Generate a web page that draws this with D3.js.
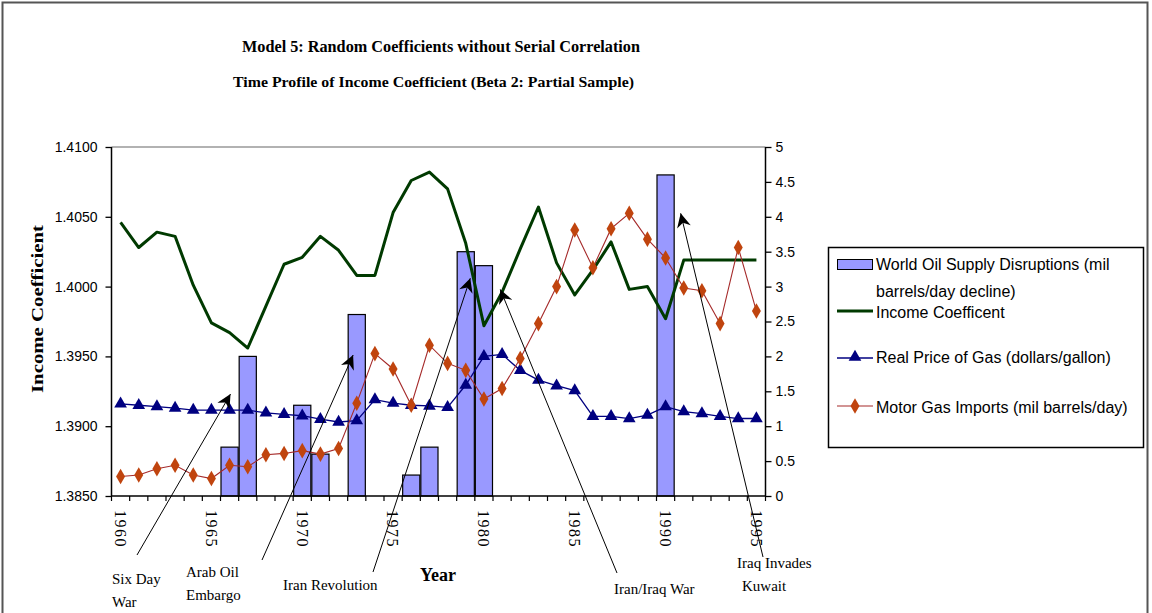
<!DOCTYPE html>
<html>
<head>
<meta charset="utf-8">
<script src="https://cdn.jsdelivr.net/npm/d3@7"></script>
<style>
  body { margin: 0; background: #fff; }
  svg { display: block; }
  .serif { font-family: "Liberation Serif", "Times New Roman", serif; }
  .sans { font-family: "Liberation Sans", Arial, sans-serif; }
</style>
</head>
<body>
<svg id="chart" width="1152" height="613"></svg>
<script>
'use strict';

// ---- data ----
var years = d3.range(1960, 1996);

var incomeCoef = [1.4046, 1.4028, 1.4039, 1.4036, 1.4001, 1.3974, 1.3967, 1.3956,
    1.3986, 1.4016, 1.4021, 1.4036, 1.4026, 1.4008, 1.4008, 1.4053, 1.4076, 1.4082,
    1.4070, 1.4031, 1.3972, 1.3996, 1.4027, 1.4057, 1.4017, 1.3994, 1.4012, 1.4032,
    1.3998, 1.4000, 1.3977, 1.4019, 1.4019, 1.4019, 1.4019, 1.4019];

var gasPrice = [1.32, 1.30, 1.28, 1.26, 1.23, 1.23, 1.23, 1.23, 1.19, 1.17, 1.15, 1.10,
    1.06, 1.08, 1.38, 1.33, 1.30, 1.29, 1.27, 1.59, 2.00, 2.03, 1.80, 1.66, 1.58, 1.51,
    1.14, 1.14, 1.11, 1.16, 1.28, 1.21, 1.18, 1.14, 1.11, 1.11];

var gasImports = [0.28, 0.30, 0.39, 0.44, 0.30, 0.25, 0.44, 0.42, 0.59, 0.61, 0.65, 0.60,
    0.68, 1.33, 2.04, 1.82, 1.30, 2.16, 1.90, 1.80, 1.39, 1.54, 1.97, 2.47, 3.00, 3.81,
    3.27, 3.83, 4.05, 3.68, 3.41, 2.98, 2.94, 2.47, 3.56, 2.65];

var disruptionYears = [1966, 1967, 1970, 1971, 1973, 1976, 1977, 1979, 1980, 1990];
var disruptionValues = [0.7, 2.0, 1.3, 0.6, 2.6, 0.3, 0.7, 3.5, 3.3, 4.6];

var leftTicks = [1.385, 1.39, 1.395, 1.40, 1.405, 1.41];
var rightTicks = [0, 0.5, 1, 1.5, 2, 2.5, 3, 3.5, 4, 4.5, 5];
var yearLabels = [1960, 1965, 1970, 1975, 1980, 1985, 1990, 1995];

// events: arrow tip in (year, right-axis value)
var eventNames = [["Six Day", "War"], ["Arab Oil", "Embargo"], ["Iran Revolution"],
    ["Iran/Iraq War"], ["Iraq Invades", "Kuwait"]];
var eventTipYear = [1966.05, 1972.8, 1979.25, 1980.9, 1990.83];
var eventTipValue = [1.46, 2.02, 3.12, 2.96, 4.05];

// ---- layout ----
var svg = d3.select("#chart"),
    plotLeft = 111.5, plotRight = 765.5, plotTop = 147, plotBottom = 496;

var x = d3.scaleBand().domain(years).range([plotLeft, plotRight]).padding(0),
    xYear = d3.scaleLinear().domain([1960, 1961])
        .range([plotLeft + x.bandwidth() / 2, plotLeft + 1.5 * x.bandwidth()]),
    yL = d3.scaleLinear().domain([1.385, 1.41]).range([plotBottom, plotTop]),
    yR = d3.scaleLinear().domain([0, 5]).range([plotBottom, plotTop]);

function xc(yr) { return x(yr) + x.bandwidth() / 2; }

// outer frame
svg.append("rect")
    .attr("x", 2.5).attr("y", 2.5).attr("width", 1145).attr("height", 700)
    .style("fill", "none").style("stroke", "#555").style("stroke-width", 2);

// titles
svg.append("text").attr("class", "serif")
    .attr("x", 242).attr("y", 52)
    .attr("textLength", 398).attr("lengthAdjust", "spacingAndGlyphs")
    .style("font-weight", "bold").style("font-size", "17px")
    .text("Model 5: Random Coefficients without Serial Correlation");
svg.append("text").attr("class", "serif")
    .attr("x", 233).attr("y", 87)
    .attr("textLength", 401).attr("lengthAdjust", "spacingAndGlyphs")
    .style("font-weight", "bold").style("font-size", "15px")
    .text("Time Profile of Income Coefficient (Beta 2: Partial Sample)");

// top gridline
svg.append("line")
    .attr("x1", plotLeft).attr("x2", plotRight).attr("y1", yL(1.41)).attr("y2", yL(1.41))
    .style("stroke", "#999").style("stroke-width", 1.5);

// bars
svg.append("g").selectAll("rect")
    .data(disruptionYears)
    .enter().append("rect")
    .attr("x", function(d) { return x(d) + 0.5; })
    .attr("width", x.bandwidth() - 1)
    .attr("y", function(d, i) { return yR(disruptionValues[i]); })
    .attr("height", function(d, i) { return yR(0) - yR(disruptionValues[i]); })
    .style("fill", "#9999ff")
    .style("stroke", "#000")
    .style("stroke-width", 1.2);

// income coefficient
var lineL = d3.line().x(function(d, i) { return xc(years[i]); }).y(function(d) { return yL(d); });
var lineR = d3.line().x(function(d, i) { return xc(years[i]); }).y(function(d) { return yR(d); });

svg.append("path").datum(incomeCoef)
    .attr("d", lineL)
    .style("fill", "none").style("stroke", "#003a00").style("stroke-width", 3)
    .style("stroke-linejoin", "round");

// gas price
svg.append("path").datum(gasPrice)
    .attr("d", lineR)
    .style("fill", "none").style("stroke", "#000080").style("stroke-width", 1.3);
var tri = d3.symbol().type(d3.symbolTriangle).size(70);
svg.append("g").selectAll("path")
    .data(gasPrice)
    .enter().append("path")
    .attr("d", tri)
    .attr("transform", function(d, i) { return "translate(" + xc(years[i]) + "," + yR(d) + ")"; })
    .style("fill", "#000080");

// gas imports
svg.append("path").datum(gasImports)
    .attr("d", lineR)
    .style("fill", "none").style("stroke", "#a52a2a").style("stroke-width", 1.1);
var dia = d3.symbol().type(d3.symbolDiamond).size(70);
svg.append("g").selectAll("path")
    .data(gasImports)
    .enter().append("path")
    .attr("d", dia)
    .attr("transform", function(d, i) { return "translate(" + xc(years[i]) + "," + yR(d) + ")"; })
    .style("fill", "#c0440e");

// axes
var gL = svg.append("g").attr("transform", "translate(" + plotLeft + ",0)")
    .call(d3.axisLeft(yL).tickValues(leftTicks).tickFormat(d3.format(".4f")).tickSize(6).tickPadding(8));
var gR = svg.append("g").attr("transform", "translate(" + plotRight + ",0)")
    .call(d3.axisRight(yR).tickValues(rightTicks).tickFormat(d3.format("~g")).tickSize(6).tickPadding(4));
[gL, gR].forEach(function(g) {
    g.select(".domain").attr("d", "M0," + plotTop + "V" + plotBottom)
        .style("stroke", "#000").style("stroke-width", 1.5);
    g.selectAll(".tick line").style("stroke", "#000").style("stroke-width", 1.3);
    g.selectAll(".tick text").attr("class", "sans")
        .style("font-size", "14px").style("fill", "#000");
});

var gB = svg.append("g").attr("transform", "translate(0," + plotBottom + ")")
    .call(d3.axisBottom(x).tickValues(yearLabels).tickSize(0).tickPadding(0));
gB.select(".domain").attr("d", "M" + plotLeft + ",0H" + plotRight)
    .style("stroke", "#000").style("stroke-width", 1.5);
gB.selectAll(".tick text")
    .attr("class", "serif")
    .attr("x", 0).attr("y", 0)
    .attr("transform", "translate(0,14) rotate(90)")
    .attr("dy", "0.35em")
    .style("text-anchor", "start")
    .style("font-size", "16px")
    .style("letter-spacing", "1.5px")
    .style("fill", "#000");
gB.append("g").selectAll("line")
    .data(d3.range(years.length + 1))
    .enter().append("line")
    .attr("x1", function(i) { return plotLeft + i * x.bandwidth(); })
    .attr("x2", function(i) { return plotLeft + i * x.bandwidth(); })
    .attr("y1", 0).attr("y2", 5)
    .style("stroke", "#000").style("stroke-width", 1.2);

// axis titles
svg.append("text").attr("class", "serif")
    .attr("transform", "translate(43,309) rotate(-90)")
    .attr("textLength", 168).attr("lengthAdjust", "spacingAndGlyphs")
    .style("text-anchor", "middle").style("font-weight", "bold").style("font-size", "16px")
    .text("Income Coefficient");
svg.append("text").attr("class", "serif")
    .attr("x", 420).attr("y", 581)
    .style("font-weight", "bold").style("font-size", "18px")
    .text("Year");

// event annotations
var defs = svg.append("defs");
defs.append("marker")
    .attr("id", "head").attr("viewBox", "0 0 10 10")
    .attr("refX", 10).attr("refY", 5)
    .attr("markerWidth", 17).attr("markerHeight", 14)
    .attr("markerUnits", "userSpaceOnUse")
    .attr("orient", "auto")
    .append("path").attr("d", "M0,0L10,5L0,10L3,5Z").style("fill", "#000");

var labelPos = [[112, 584], [186, 577], [283, 590], [614, 594], [737, 568]];
var tailPos = [[137, 555], [262, 560], [373, 572], [617, 573], [763, 557]];
var lineGap = 23;

eventNames.forEach(function(lines, i) {
    svg.append("line")
        .attr("x1", tailPos[i][0]).attr("y1", tailPos[i][1])
        .attr("x2", xYear(eventTipYear[i])).attr("y2", yR(eventTipValue[i]))
        .attr("marker-end", "url(#head)")
        .style("stroke", "#000").style("stroke-width", 1);
    var t = svg.append("text").attr("class", "serif").style("font-size", "15px");
    lines.forEach(function(s, j) {
        t.append("tspan")
            .attr("x", labelPos[i][0] + (i === 4 && j === 1 ? 5 : 0))
            .attr("y", labelPos[i][1] + j * lineGap)
            .text(s);
    });
});

// legend
var lg = svg.append("g");
lg.append("rect")
    .attr("x", 828.5).attr("y", 247.5).attr("width", 315).attr("height", 200)
    .style("fill", "#fff").style("stroke", "#000").style("stroke-width", 1.5);
lg.append("rect")
    .attr("x", 837.5).attr("y", 259.5).attr("width", 35).attr("height", 10)
    .style("fill", "#9999ff").style("stroke", "#000");
lg.append("line").attr("x1", 837).attr("x2", 873).attr("y1", 311).attr("y2", 311)
    .style("stroke", "#003a00").style("stroke-width", 3);
lg.append("line").attr("x1", 837).attr("x2", 873).attr("y1", 358).attr("y2", 358)
    .style("stroke", "#000080").style("stroke-width", 1.3);
lg.append("path").attr("d", tri).attr("transform", "translate(855,357)").style("fill", "#000080");
lg.append("line").attr("x1", 837).attr("x2", 873).attr("y1", 406).attr("y2", 406)
    .style("stroke", "#a52a2a").style("stroke-width", 1.1);
lg.append("path").attr("d", dia).attr("transform", "translate(855,406)").style("fill", "#c0440e");

var legendText = [["World Oil Supply Disruptions (mil", 270], ["barrels/day decline)", 297],
    ["Income Coefficent", 318], ["Real Price of Gas (dollars/gallon)", 363],
    ["Motor Gas Imports (mil barrels/day)", 413]];
lg.selectAll("text.leg")
    .data(legendText)
    .enter().append("text")
    .attr("class", "sans leg")
    .attr("x", 876).attr("y", function(d) { return d[1]; })
    .style("font-size", "16px")
    .text(function(d) { return d[0]; });
</script>
</body>
</html>
